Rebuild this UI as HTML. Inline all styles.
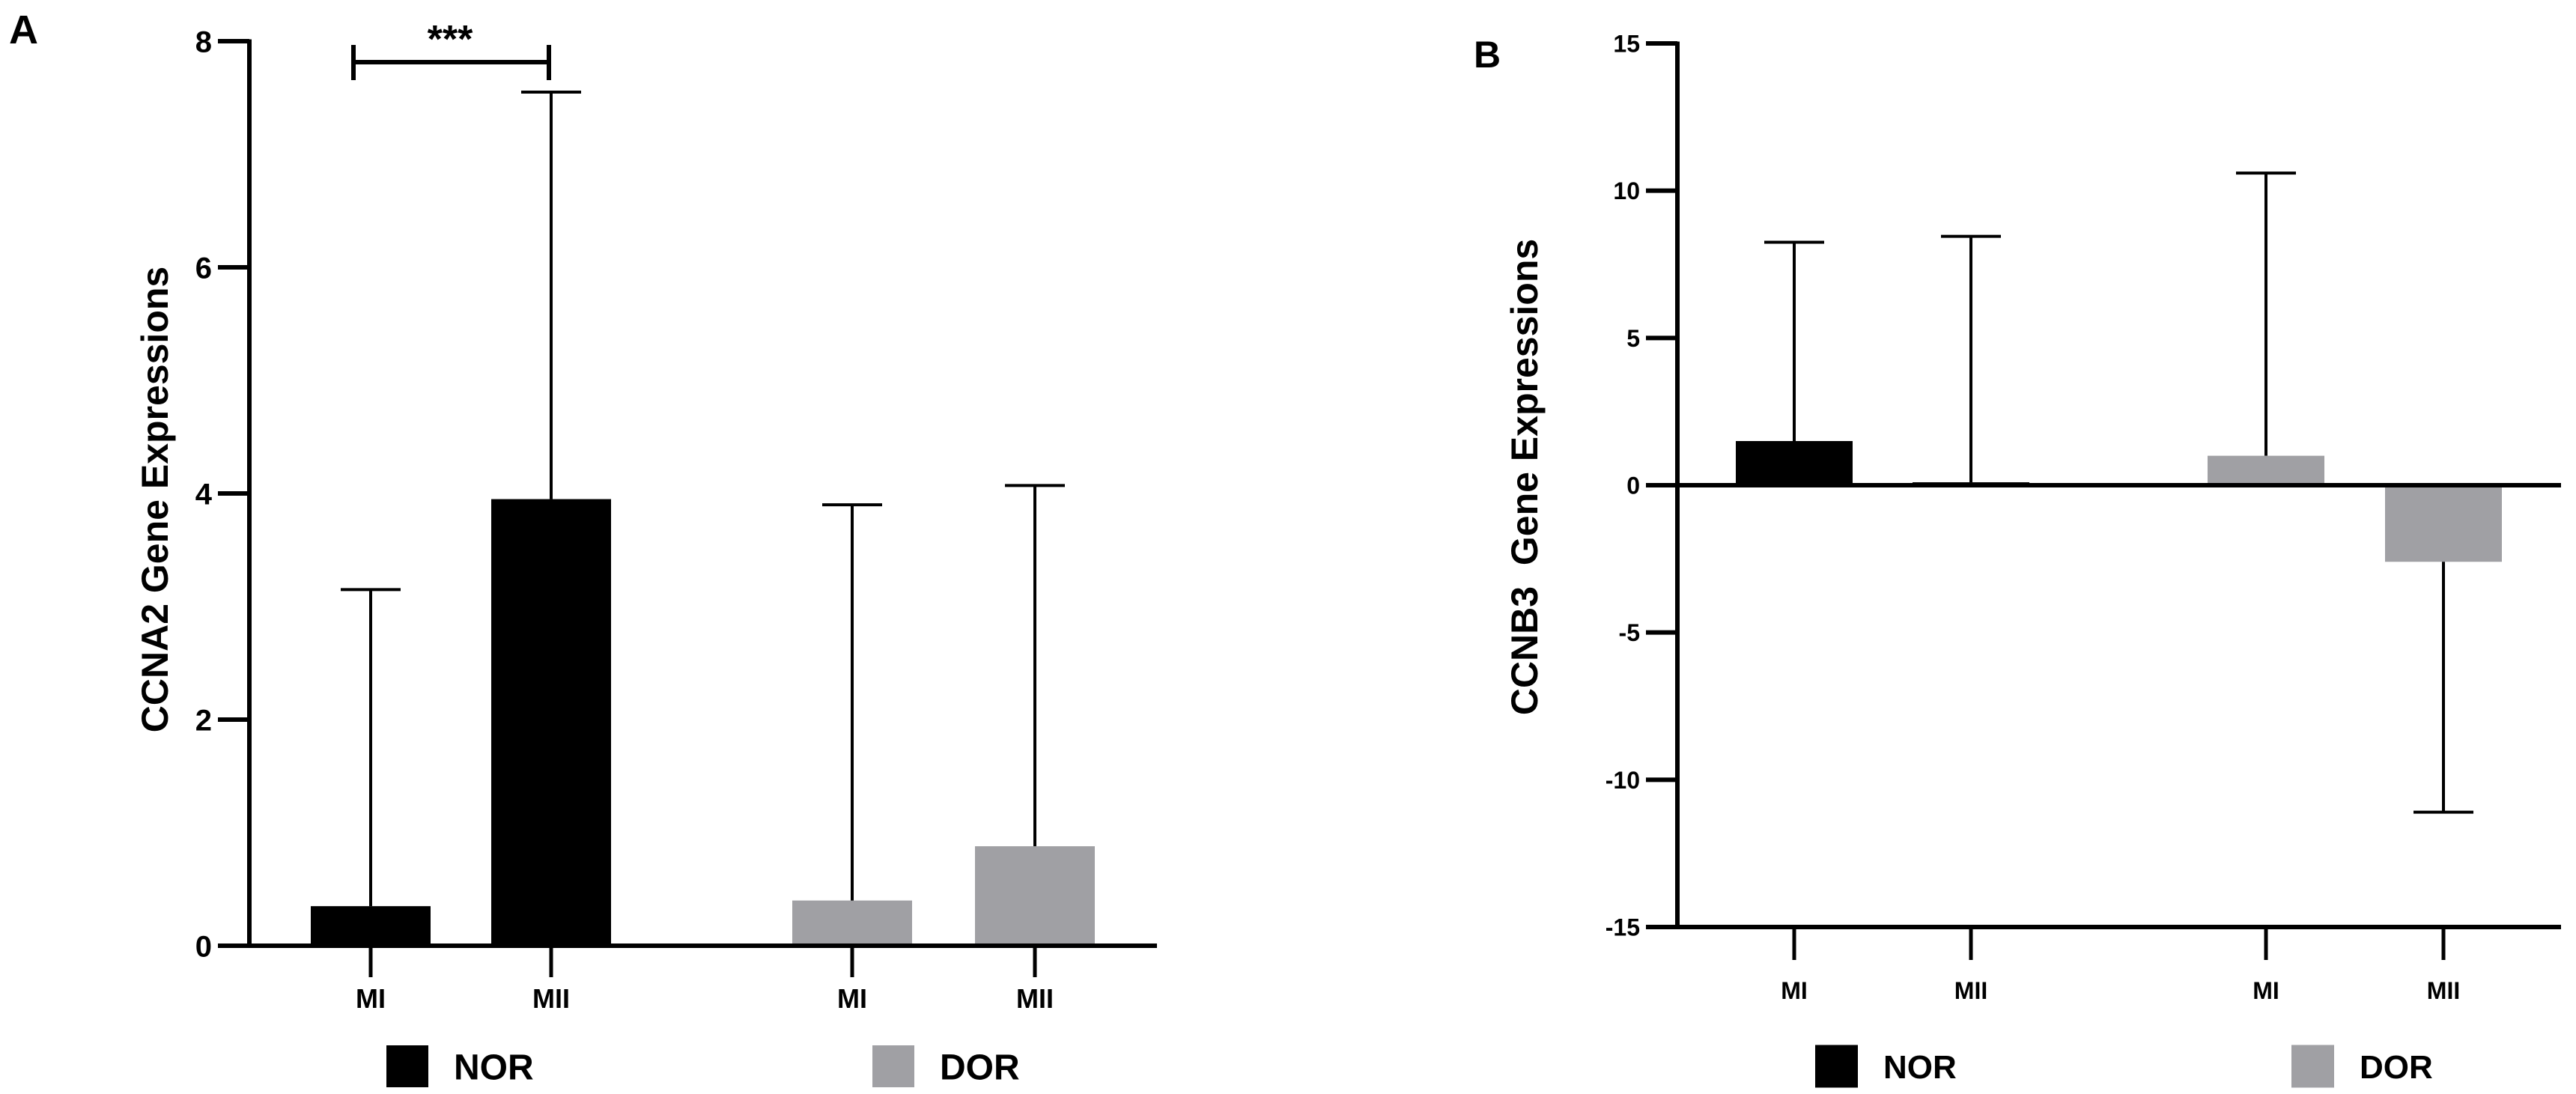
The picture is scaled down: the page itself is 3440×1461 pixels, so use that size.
<!DOCTYPE html>
<html><head><meta charset="utf-8"><style>
html,body{margin:0;padding:0;background:#fff;}
svg{display:block;}
text{font-family:"Liberation Sans",sans-serif;font-weight:bold;fill:#000;}
</style></head>
<body>
<svg id="fig" width="3440" height="1461" viewBox="0 0 3440 1461" xmlns="http://www.w3.org/2000/svg">
<text x="12" y="58" font-size="54">A</text>
<text x="1968" y="90" font-size="50">B</text>
<text transform="translate(224,667) rotate(-90)" text-anchor="middle" font-size="50">CCNA2 Gene Expressions</text>
<text transform="translate(2053,637) rotate(-90)" text-anchor="middle" font-size="50" xml:space="preserve">CCNB3  Gene Expressions</text>
<g id="gA"></g>
<g id="gB"></g>
</svg>
<script>
const categories = ["MI","MII","MI","MII"];
const groups = ["NOR","NOR","DOR","DOR"];
const aValues = [0.35, 3.95, 0.4, 0.88];
const aErrors = [3.15, 7.55, 3.9, 4.07];
const aTicks = [0,2,4,6,8];
const bValues = [1.5, 0.1, 1.0, -2.6];
const bErrors = [8.25, 8.45, 10.6, -11.1];
const bTicks = [-15,-10,-5,0,5,10,15];
const legendLabels = ["NOR","DOR"];

const NS="http://www.w3.org/2000/svg";
const colors={NOR:"#000",DOR:"#a0a0a4"};
function mk(parent,tag,attrs){const e=document.createElementNS(NS,tag);for(const k in attrs)e.setAttribute(k,attrs[k]);parent.appendChild(e);return e;}

function drawChart(g,cfg){
  const y=v=>cfg.y0+(v-cfg.min)/(cfg.max-cfg.min)*(cfg.y1-cfg.y0);
  const zero=y(0);
  categories.forEach((c,i)=>{
    const cx=cfg.centers[i];
    const v=cfg.values[i];
    const top=Math.min(y(v),zero), h=Math.max(Math.abs(y(v)-zero),3);
    const r=mk(g,'rect',{x:cx-cfg.bw/2,y:top,width:cfg.bw,height:h,fill:colors[groups[i]]});
    
    
    const e=cfg.errors[i];
    const ln=mk(g,'line',{x1:cx,x2:cx,y1:y(v),y2:y(e),stroke:'#000','stroke-width':4});
    
    
    const cap=mk(g,'line',{x1:cx-40,x2:cx+40,y1:y(e),y2:y(e),stroke:'#000','stroke-width':4});
    
    
    const t=mk(g,'line',{x1:cx,x2:cx,y1:cfg.xAxisY,y2:cfg.xAxisY+cfg.tickLen,stroke:'#000','stroke-width':5});
    
    
    const tl=mk(g,'text',{x:cx,y:cfg.xLabelY,'text-anchor':'middle','font-size':cfg.xfs});
    tl.textContent=c;
    
    
  });
  const ya=mk(g,'line',{x1:cfg.ax,x2:cfg.ax,y1:y(cfg.max)-2.5,y2:y(cfg.min)+2.5,stroke:'#000','stroke-width':6});
  
  
  cfg.ticks.forEach(tv=>{
    const t=mk(g,'line',{x1:cfg.ax-42,x2:cfg.ax,y1:y(tv),y2:y(tv),stroke:'#000','stroke-width':6});
    
    
    const tl=mk(g,'text',{x:cfg.ax-50,y:y(tv)+cfg.yfs*0.36,'text-anchor':'end','font-size':cfg.yfs});
    tl.textContent=tv;
    
    
  });
  const xa=mk(g,'line',{x1:cfg.ax,x2:cfg.axEnd,y1:zero,y2:zero,stroke:'#000','stroke-width':6});
  
  
  if(cfg.xAxisY!==zero){
    const xb=mk(g,'line',{x1:cfg.ax,x2:cfg.axEnd,y1:cfg.xAxisY,y2:cfg.xAxisY,stroke:'#000','stroke-width':6});
    
    
  }
  legendLabels.forEach((lab,i)=>{
    const lx=cfg.legX[i];
    const sq=mk(g,'rect',{x:lx,y:cfg.legY-cfg.sq/2,width:cfg.sq,height:cfg.sq,fill:colors[lab]});
    
    
    const tx=mk(g,'text',{x:lx+cfg.sq+cfg.gap,y:cfg.legY+cfg.lfs*0.36,'font-size':cfg.lfs});
    tx.textContent=lab;
    
    
  });
}

const gA=document.getElementById('gA');
drawChart(gA,{min:0,max:8,y0:1263,y1:55,ax:333,axEnd:1545,centers:[495,736,1138,1382],bw:160,
  values:aValues,errors:aErrors,ticks:aTicks,xAxisY:1263,tickLen:42,xLabelY:1346,xfs:36,yfs:40,
  legX:[516,1165],legY:1424,sq:56,gap:34,lfs:48});
(function(){
  const b=mk(gA,'path',{d:'M472,83 H733 M472,60 V107 M733,60 V107',stroke:'#000','stroke-width':6,fill:'none'});
  
  
  const s=mk(gA,'text',{x:601,y:70,'text-anchor':'middle','font-size':52});
  s.textContent='***';
  
  
})();

const gB=document.getElementById('gB');
drawChart(gB,{min:-15,max:15,y0:1238,y1:58,ax:2240,axEnd:3420,centers:[2396,2632,3026,3263],bw:156,
  values:bValues,errors:bErrors,ticks:bTicks,xAxisY:1238,tickLen:44,xLabelY:1334,xfs:32,yfs:32,
  legX:[2424,3060],legY:1424,sq:57,gap:34,lfs:44});
</script>
</body></html>
